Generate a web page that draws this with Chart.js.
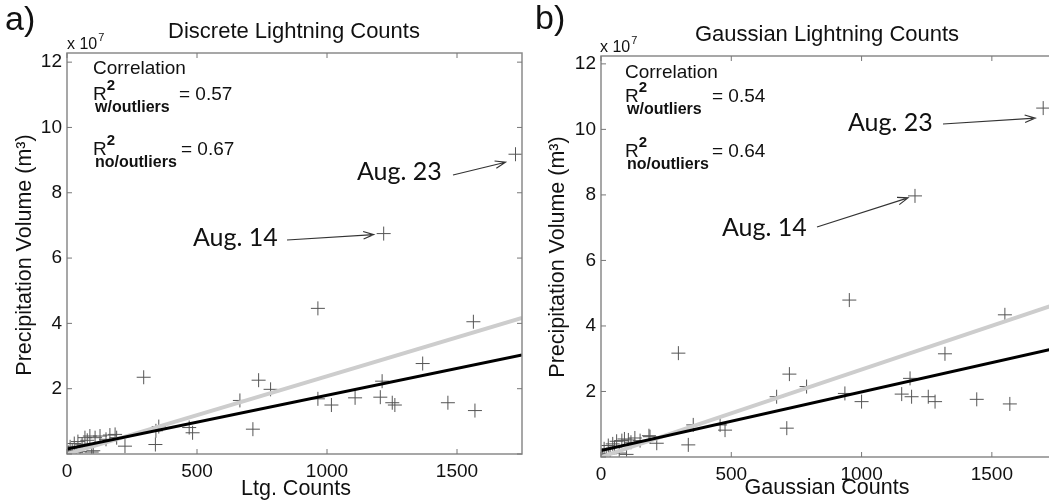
<!DOCTYPE html>
<html>
<head>
<meta charset="utf-8">
<script src="https://cdn.jsdelivr.net/npm/chart.js@4.4.0/dist/chart.umd.min.js"></script>
<style>
  html, body { margin: 0; padding: 0; background: #fff; overflow: hidden; width: 1049px; height: 500px; }
  canvas { position: absolute; top: 0; }
  #panelA { left: 0; }
  #panelB { left: 530px; }
</style>
</head>
<body>
<canvas id="panelA" width="530" height="500"></canvas>
<canvas id="panelB" width="535" height="500"></canvas>
<script>
/* ============================================
   DATOS (volumen en 1e7 m3)
   ============================================ */

// a) Conteos discretos
const ltgCounts = [295, 965, 1563, 1368, 737, 783, 665, 965, 1017, 1108, 1205, 1212, 1251, 1261, 1465, 1569,
  715, 483, 470, 340, 342, 353, 223, 191, 185, 1218, 1725,
  5, 12, 20, 28, 35, 42, 50, 58, 69, 78, 88, 95, 101, 108, 127, 150, 165];
const ltgVolume = [2.35, 4.46, 4.05, 2.77, 2.26, 1.98, 1.64, 1.69, 1.50, 1.72, 1.74, 2.23, 1.57, 1.50, 1.57, 1.33,
  0.76, 0.65, 0.81, 0.29, 0.71, 0.84, 0.24, 0.50, 0.60, 6.75, 9.18,
  0.05, 0.22, 0.10, 0.32, 0.04, 0.38, 0.07, 0.30, 0.50, 0.42, 0.55, 0.06, 0.10, 0.50, 0.55, 0.45, 0.58];

// b) Conteos gaussianos
const gaussCounts = [953, 1550, 1320, 297, 723, 789, 674, 936, 1000, 1154, 1186, 1192, 1256, 1282, 1442, 1569,
  713, 476, 457, 335, 354, 214, 188, 184, 1205, 1697,
  5, 12, 20, 28, 35, 45, 52, 60, 70, 80, 90, 98, 105, 115, 130, 150];
const gaussVolume = [4.79, 4.34, 3.15, 3.17, 2.53, 2.15, 1.84, 1.94, 1.69, 1.92, 2.40, 1.84, 1.84, 1.69, 1.76, 1.62,
  0.88, 0.82, 0.98, 0.37, 0.98, 0.42, 0.62, 0.65, 7.97, 10.65,
  0.05, 0.25, 0.08, 0.35, 0.10, 0.40, 0.30, 0.48, 0.12, 0.50, 0.55, 0.08, 0.52, 0.45, 0.58, 0.50];

// Rectas de ajuste (extremos en x = 0 y x = 1750)
const fitX = [0, 1750];
const ltgFitAll = [0.15, 3.03];     // negra (con outliers)
const ltgFitClean = [0.0, 4.17];    // gris (sin outliers)
const gaussFitAll = [0.2, 3.33];
const gaussFitClean = [0.0, 4.67];

// Ticks
const xTicks = [0, 500, 1000, 1500];
const yTicks = [0, 2, 4, 6, 8, 10, 12];

const FUENTE = "'Liberation Sans', Arial, sans-serif";
const FUENTE_NOTA = "Lato, 'Open Sans', sans-serif";

const toPoints = (xs, ys) => xs.map((x, i) => ({ x, y: ys[i] }));

/* ============================================
   PLUGIN: marco estilo MATLAB + textos
   ============================================ */
const marcoPlugin = {
  id: 'marco',
  afterDatasetsDraw(chart, args, o) {
    const ctx = chart.ctx;
    const a = chart.chartArea;
    const xs = chart.scales.x, ys = chart.scales.y;
    ctx.save();

    // Caja
    ctx.strokeStyle = '#8a8a8a';
    ctx.lineWidth = 1.5;
    ctx.strokeRect(a.left, a.top, a.right - a.left, a.bottom - a.top);

    // Ticks hacia adentro
    ctx.lineWidth = 1;
    ctx.strokeStyle = '#777';
    xTicks.forEach(v => {
      const px = xs.getPixelForValue(v);
      ctx.beginPath();
      ctx.moveTo(px, a.bottom); ctx.lineTo(px, a.bottom - 5);
      ctx.moveTo(px, a.top); ctx.lineTo(px, a.top + 5);
      ctx.stroke();
    });
    yTicks.forEach(v => {
      const py = ys.getPixelForValue(v);
      ctx.beginPath();
      ctx.moveTo(a.left, py); ctx.lineTo(a.left + 5, py);
      ctx.moveTo(a.right, py); ctx.lineTo(a.right - 5, py);
      ctx.stroke();
    });

    ctx.fillStyle = '#111';
    ctx.textBaseline = 'middle';

    // Letra del panel
    ctx.font = `34px ${FUENTE}`;
    ctx.textAlign = 'left';
    ctx.fillText(o.letra, o.letraPos[0], o.letraPos[1]);

    // Título
    ctx.font = `22px ${FUENTE}`;
    ctx.textAlign = 'center';
    ctx.fillText(o.titulo, o.tituloPos[0], o.tituloPos[1]);

    // x 10^7
    ctx.textAlign = 'left';
    ctx.font = `16px ${FUENTE}`;
    ctx.fillText('x 10', o.expPos[0], o.expPos[1]);
    const wExp = ctx.measureText('x 10').width;
    ctx.font = `11px ${FUENTE}`;
    ctx.fillText('7', o.expPos[0] + wExp + 1, o.expPos[1] - 7);

    // Títulos de ejes
    ctx.font = `21.5px ${FUENTE}`;
    ctx.textAlign = 'center';
    ctx.fillText(o.xTitulo, o.xTituloPos[0], o.xTituloPos[1]);
    ctx.save();
    ctx.translate(o.yTituloPos[0], o.yTituloPos[1]);
    ctx.rotate(-Math.PI / 2);
    ctx.fillText('Precipitation Volume (m\u00B3)', 0, 0);
    ctx.restore();

    // Bloque de correlación
    ctx.textAlign = 'left';
    ctx.font = `19px ${FUENTE}`;
    ctx.fillText('Correlation', o.corrPos[0], o.corrPos[1]);
    o.r2.forEach(r => {
      const [x0, y0] = r.pos;
      ctx.font = `19px ${FUENTE}`;
      ctx.fillText('R', x0, y0);
      const wR = ctx.measureText('R').width;
      ctx.font = `bold 15px ${FUENTE}`;
      ctx.fillText('2', x0 + wR, y0 - 9);
      ctx.font = `bold 16px ${FUENTE}`;
      ctx.fillText(r.sub, x0 + 2, y0 + 13);
      ctx.font = `19px ${FUENTE}`;
      ctx.fillText('= ' + r.valor, r.valorX, y0);
    });

    // Notas con flecha
    o.notas.forEach(n => {
      ctx.font = `25px ${FUENTE_NOTA}`;
      ctx.fillStyle = '#111';
      ctx.textAlign = 'left';
      ctx.fillText(n.texto, n.pos[0], n.pos[1]);
      const tipX = xs.getPixelForValue(n.punto[0]) + n.offset[0];
      const tipY = ys.getPixelForValue(n.punto[1]) + n.offset[1];
      const [tx, ty] = n.cola;
      const ang = Math.atan2(tipY - ty, tipX - tx);
      ctx.strokeStyle = '#333';
      ctx.lineWidth = 1.2;
      ctx.beginPath();
      ctx.moveTo(tx, ty); ctx.lineTo(tipX, tipY);
      ctx.moveTo(tipX - 11 * Math.cos(ang - 0.35), tipY - 11 * Math.sin(ang - 0.35));
      ctx.lineTo(tipX, tipY);
      ctx.lineTo(tipX - 11 * Math.cos(ang + 0.35), tipY - 11 * Math.sin(ang + 0.35));
      ctx.stroke();
    });

    ctx.restore();
  },
};

/* ============================================
   FIGURA
   ============================================ */
const Figura = {

  configBase(padTop, yWidth, xHeight, yMax) {
    return {
      responsive: false,
      animation: false,
      devicePixelRatio: 1,
      layout: { padding: { top: padTop, right: 8, left: 0, bottom: 0 } },
      plugins: { legend: { display: false }, tooltip: { enabled: false } },
      scales: {
        x: {
          type: 'linear',
          min: 0,
          max: 1750,
          grid: { display: false },
          border: { display: false },
          afterFit: (s) => { s.height = xHeight; },
          afterBuildTicks: (s) => { s.ticks = xTicks.map(v => ({ value: v })); },
          ticks: {
            color: '#111',
            padding: -2,
            font: { family: FUENTE, size: 19 },
            callback: (v) => String(v),
          },
        },
        y: {
          type: 'linear',
          min: 0,
          max: yMax,
          grid: { display: false },
          border: { display: false },
          afterFit: (s) => { s.width = yWidth; },
          afterBuildTicks: (s) => { s.ticks = yTicks.map(v => ({ value: v })); },
          ticks: {
            color: '#111',
            padding: -3,
            font: { family: FUENTE, size: 19 },
            callback: (v) => (v === 0 ? '' : String(v)),
          },
        },
      },
    };
  },

  datasets(xs, ys, fitAll, fitClean) {
    return [
      {
        data: toPoints(xs, ys),
        pointStyle: 'cross',
        pointRadius: 7,
        pointBorderColor: '#555',
        pointBorderWidth: 1,
        showLine: false,
        order: 3,
      },
      {
        data: toPoints(fitX, fitClean),
        showLine: true,
        borderColor: '#cdcdcd',
        borderWidth: 4,
        pointRadius: 0,
        order: 2,
      },
      {
        data: toPoints(fitX, fitAll),
        showLine: true,
        borderColor: '#000',
        borderWidth: 3,
        pointRadius: 0,
        order: 1,
      },
    ];
  },

  panel(canvasId, opts) {
    const canvas = document.getElementById(canvasId);
    const config = this.configBase(opts.padTop, opts.yWidth, opts.xHeight, opts.yMax);
    config.plugins.marco = opts.textos;
    return new Chart(canvas.getContext('2d'), {
      type: 'scatter',
      data: { datasets: this.datasets(opts.xs, opts.ys, opts.fitAll, opts.fitClean) },
      options: config,
      plugins: [marcoPlugin],
    });
  },
};

// Panel a)
Figura.panel('panelA', {
  padTop: 53, yWidth: 67, xHeight: 46, yMax: 12.28,
  xs: ltgCounts, ys: ltgVolume, fitAll: ltgFitAll, fitClean: ltgFitClean,
  textos: {
    letra: 'a)', letraPos: [5, 21],
    titulo: 'Discrete Lightning Counts', tituloPos: [294, 32],
    expPos: [67, 45],
    xTitulo: 'Ltg. Counts', xTituloPos: [296, 489],
    yTituloPos: [25, 255],
    corrPos: [93, 69],
    r2: [
      { pos: [93, 95], sub: 'w/outliers', valor: '0.57', valorX: 179 },
      { pos: [93, 150], sub: 'no/outliers', valor: '0.67', valorX: 181 },
    ],
    notas: [
      { texto: 'Aug. 23', pos: [357, 172], cola: [453, 175], punto: [1725, 9.18], offset: [-10, 8] },
      { texto: 'Aug. 14', pos: [193, 238], cola: [287, 240], punto: [1218, 6.75], offset: [-10, 1] },
    ],
  },
});

// Panel b)
Figura.panel('panelB', {
  padTop: 56, yWidth: 71, xHeight: 43, yMax: 12.24,
  xs: gaussCounts, ys: gaussVolume, fitAll: gaussFitAll, fitClean: gaussFitClean,
  textos: {
    letra: 'b)', letraPos: [5, 20],
    titulo: 'Gaussian Lightning Counts', tituloPos: [297, 35],
    expPos: [70, 48],
    xTitulo: 'Gaussian Counts', xTituloPos: [297, 488],
    yTituloPos: [28, 257],
    corrPos: [95, 73],
    r2: [
      { pos: [95, 97], sub: 'w/outliers', valor: '0.54', valorX: 182 },
      { pos: [95, 152], sub: 'no/outliers', valor: '0.64', valorX: 182 },
    ],
    notas: [
      { texto: 'Aug. 23', pos: [318, 123], cola: [413, 124], punto: [1697, 10.65], offset: [-8, 10] },
      { texto: 'Aug. 14', pos: [192, 228], cola: [287, 227], punto: [1205, 7.97], offset: [-7, 2] },
    ],
  },
});
</script>
</body>
</html>
